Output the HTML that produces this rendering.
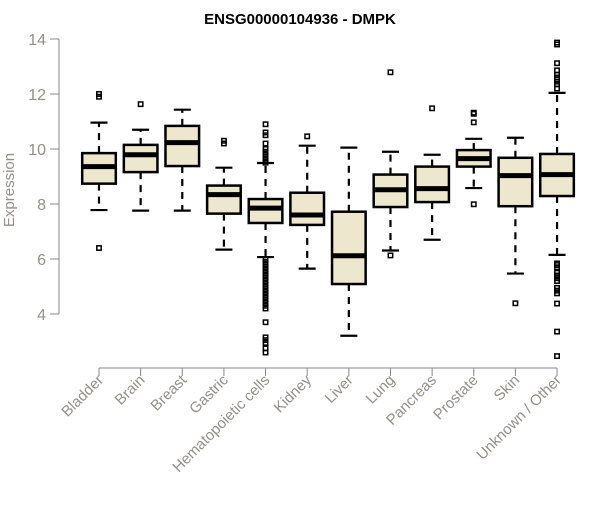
<!DOCTYPE html>
<html><head><meta charset="utf-8"><style>
body{margin:0;background:#fff}
svg{font-family:"Liberation Sans",Arial,sans-serif}
</style></head><body>
<svg id="chart" width="600" height="500">
<text x="300" y="24" text-anchor="middle" font-weight="bold" font-size="15" fill="#000">ENSG00000104936 - DMPK</text>
<text transform="translate(14,190) rotate(-90)" text-anchor="middle" font-size="15" fill="#958f88">Expression</text>
<g id="yaxis"></g>
<g id="xaxis"></g>
<g id="boxes"></g>
</svg>
<script>
const categories=["Bladder","Brain","Breast","Gastric","Hematopoietic cells","Kidney","Liver","Lung","Pancreas","Prostate","Skin","Unknown / Other"];
const q1=[8.74,9.16,9.38,7.65,7.31,7.24,5.09,7.89,8.07,9.36,7.92,8.29];
const medians=[9.36,9.79,10.23,8.34,7.85,7.6,6.12,8.52,8.56,9.65,9.03,9.07];
const q3=[9.85,10.15,10.84,8.67,8.18,8.41,7.72,9.07,9.36,9.96,9.68,9.82];
const whiskLow=[7.78,7.76,7.76,6.34,6.07,5.65,3.21,6.31,6.70,8.58,5.47,6.15];
const whiskHigh=[10.96,10.7,11.43,9.32,9.49,10.12,10.05,9.9,9.79,10.37,10.41,12.04];
const outliers=[[12.0,11.9,6.4],[11.63],[],[10.3,10.2],
[10.9,10.6,10.5,10.2,10.0,9.9,9.8,9.7,9.6,9.5,6.0,5.9,5.8,5.7,5.6,5.5,5.4,5.3,5.2,5.1,5.0,4.9,4.8,4.7,4.6,4.5,4.4,4.3,4.2,3.7,3.15,3.05,2.95,2.75,2.6],
[10.46],[],[12.79,6.13],[11.48],[11.32,11.28,10.97,7.99],[4.39],
[13.87,13.8,13.12,12.86,12.7,12.6,12.53,12.45,12.35,12.2,5.84,5.78,5.7,5.5,5.4,5.3,5.2,4.95,4.85,4.75,4.38,3.36,2.47]];
const yTicks=[4,6,8,10,12,14];
const NS="http://www.w3.org/2000/svg";
function y(v){return 314-(v-4)*27.5;}
function x(i){return 99+i*41.64;}
function mk(tag,attrs,parent){const e=document.createElementNS(NS,tag);for(const k in attrs)e.setAttribute(k,attrs[k]);parent.appendChild(e);return e;}
const ya=document.getElementById('yaxis'),xa=document.getElementById('xaxis'),bx=document.getElementById('boxes');
let l=mk('line',{x1:59,x2:59,y1:y(14),y2:y(4),stroke:'#888','stroke-width':1},ya);


yTicks.forEach(t=>{
 const tl=mk('line',{x1:50,x2:59,y1:y(t),y2:y(t),stroke:'#888'},ya);
 
 
 const tx=mk('text',{x:46,y:y(t)+6,'text-anchor':'end','font-size':16,fill:'#958f88'},ya);
 tx.textContent=t;
 
 
});
l=mk('line',{x1:x(0),x2:x(11),y1:368,y2:368,stroke:'#888'},xa);


categories.forEach((c,i)=>{
 const cx=x(i);
 const tl=mk('line',{x1:cx,x2:cx,y1:368,y2:376,stroke:'#888'},xa);
 
 
 const tx=mk('text',{transform:`translate(${cx+5},${381}) rotate(-45)`,'text-anchor':'end','font-size':15,fill:'#958f88'},xa);
 tx.textContent=c;
 
 
 const g=mk('g',{},bx);
 
 
 const hw=16.8;
 mk('line',{x1:cx,x2:cx,y1:y(q3[i]),y2:y(whiskHigh[i]),stroke:'#000','stroke-width':2.2,'stroke-dasharray':'7,6'},g);
 mk('line',{x1:cx,x2:cx,y1:y(q1[i]),y2:y(whiskLow[i]),stroke:'#000','stroke-width':2.2,'stroke-dasharray':'7,6'},g);
 mk('line',{x1:cx-8.5,x2:cx+8.5,y1:y(whiskHigh[i]),y2:y(whiskHigh[i]),stroke:'#000','stroke-width':2.2},g);
 mk('line',{x1:cx-8.5,x2:cx+8.5,y1:y(whiskLow[i]),y2:y(whiskLow[i]),stroke:'#000','stroke-width':2.2},g);
 mk('rect',{x:cx-hw,y:y(q3[i]),width:2*hw,height:y(q1[i])-y(q3[i]),fill:'#ede7cd',stroke:'#000','stroke-width':2.5},g);
 mk('line',{x1:cx-hw,x2:cx+hw,y1:y(medians[i]),y2:y(medians[i]),stroke:'#000','stroke-width':5},g);
 outliers[i].forEach(v=>{
  const p=mk('rect',{x:cx-2.2,y:y(v)-2.2,width:4.4,height:4.4,fill:'none',stroke:'#000','stroke-width':1.5},g);
  
  
 });
});
</script>
</body></html>
